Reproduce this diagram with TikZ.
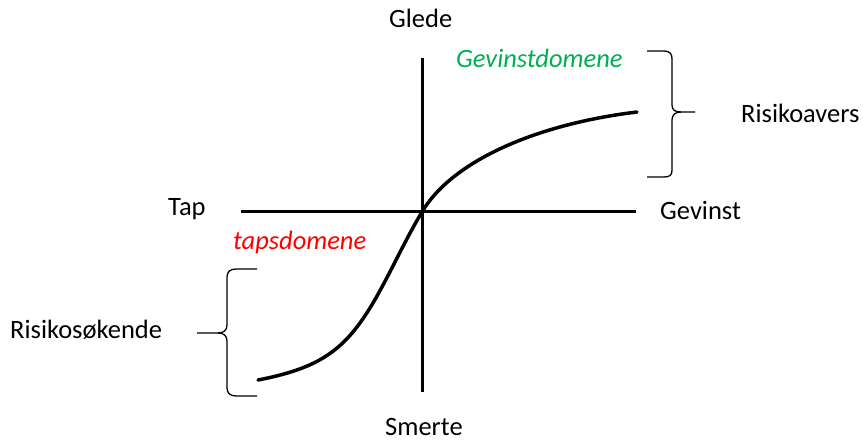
\documentclass[tikz,border=0pt]{standalone}
\usepackage{fontspec}
\setmainfont{Carlito}
\definecolor{gaingreen}{RGB}{0,176,80}
\definecolor{lossred}{RGB}{255,0,0}
\begin{document}
\begin{tikzpicture}[x=1pt,y=-1pt,
  lbl/.style={anchor=base west,inner sep=0pt,font=\fontsize{26.5}{28}\selectfont},
  axis/.style={line width=3pt},
  brace/.style={line width=1.3pt},
  curve/.style={line width=3.5pt,line cap=round}]
\useasboundingbox (0,0) rectangle (863,441);
% axes
\coordinate (xl) at (241,212);
\coordinate (xr) at (636,212);
\coordinate (yt) at (422,58);
\coordinate (yb) at (422,392);
\draw[axis] (xl) -- (xr);
\draw[axis] (yt) -- (yb);
% S-curve
\coordinate (c0) at (258,380);
\coordinate (c1) at (373,303);
\coordinate (c2) at (422,212);
\coordinate (c3) at (637,112);
\draw[curve] (c0) .. controls (320,368) and (345,350) .. (c1)
  .. controls (390,274) and (405,240) .. (c2)
  .. controls (450,164) and (530,125) .. (c3);
% right brace
\draw[brace] (647,51) -- (664,51) .. controls (670,51) and (672,54) .. (672,59) -- (672,105) .. controls (672,110) and (675,112) .. (681,112) -- (695,112);
\draw[brace] (681,112) .. controls (675,112) and (672,115) .. (672,120) -- (672,170) .. controls (672,175) and (670,177) .. (664,177) -- (647,177);
% left brace
\draw[brace] (257,269) -- (236,269) .. controls (230,269) and (227,272) .. (227,277) -- (227,325) .. controls (227,330) and (224,333) .. (218,333) -- (197,333);
\draw[brace] (218,333) .. controls (224,333) and (227,336) .. (227,341) -- (227,388) .. controls (227,393) and (230,396) .. (236,396) -- (257,396);
% labels
\node[lbl] (glede) at (389,28) {Glede};
\node[lbl] (smerte) at (385,435) {Smerte};
\node[lbl] (tap) at (168,215) {Tap};
\node[lbl] (gevinst) at (660,219) {Gevinst};
\node[lbl,text=gaingreen,font=\fontsize{26.5}{28}\selectfont\itshape] (gdom) at (456,68) {Gevinstdomene};
\node[lbl,text=lossred,font=\fontsize{26.5}{28}\selectfont\itshape] (tdom) at (233,250) {tapsdomene};
\node[lbl] (ravers) at (741,123) {Risikoavers};
\node[lbl] (rsok) at (10,338) {Risikosøkende};
\end{tikzpicture}
\end{document}
